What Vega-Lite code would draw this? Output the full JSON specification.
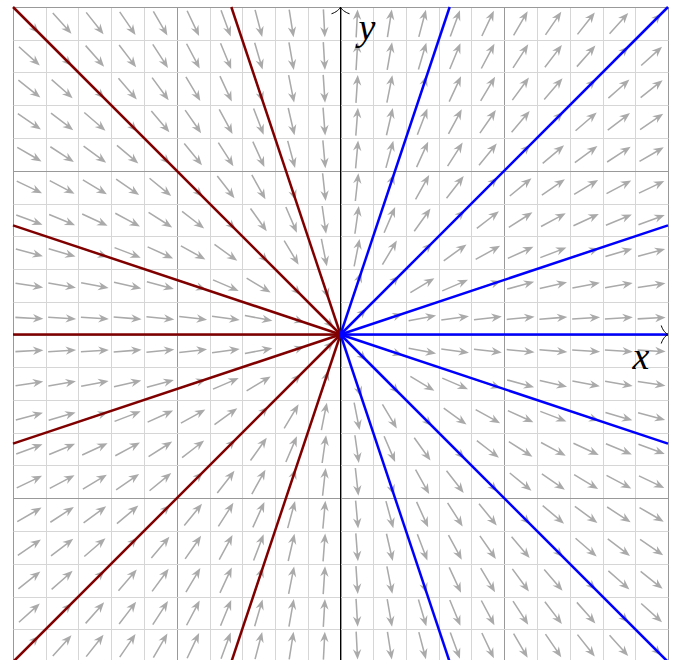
{
"$schema": "https://vega.github.io/schema/vega-lite/v6.json",
"width": 655, "height": 655,
"autosize": {"type": "none"},
"padding": {"left": 13, "top": 7, "right": 10, "bottom": 0},
"background": "white",
"config": {"view": {"stroke": null}, "axis": {"labels": false, "ticks": false, "domain": false, "grid": false}},
"datasets": {
"arrows": [
{"x":-1.9,"y":1.9,"a":45},{"x":-1.7,"y":1.9,"a":48.2},{"x":-1.5,"y":1.9,"a":51.7},{"x":-1.3,"y":1.9,"a":55.6},{"x":-1.1,"y":1.9,"a":59.9},{"x":-0.9,"y":1.9,"a":64.6},{"x":-0.7,"y":1.9,"a":69.8},{"x":-0.5,"y":1.9,"a":75.3},{"x":-0.3,"y":1.9,"a":81},{"x":-0.1,"y":1.9,"a":87},
{"x":0.1,"y":1.9,"a":-87},{"x":0.3,"y":1.9,"a":-81},{"x":0.5,"y":1.9,"a":-75.3},{"x":0.7,"y":1.9,"a":-69.8},{"x":0.9,"y":1.9,"a":-64.6},{"x":1.1,"y":1.9,"a":-59.9},{"x":1.3,"y":1.9,"a":-55.6},{"x":1.5,"y":1.9,"a":-51.7},{"x":1.7,"y":1.9,"a":-48.2},{"x":1.9,"y":1.9,"a":-45},
{"x":-1.9,"y":1.7,"a":41.8},{"x":-1.7,"y":1.7,"a":45},{"x":-1.5,"y":1.7,"a":48.6},{"x":-1.3,"y":1.7,"a":52.6},{"x":-1.1,"y":1.7,"a":57.1},{"x":-0.9,"y":1.7,"a":62.1},{"x":-0.7,"y":1.7,"a":67.6},{"x":-0.5,"y":1.7,"a":73.6},{"x":-0.3,"y":1.7,"a":80},{"x":-0.1,"y":1.7,"a":86.6},
{"x":0.1,"y":1.7,"a":-86.6},{"x":0.3,"y":1.7,"a":-80},{"x":0.5,"y":1.7,"a":-73.6},{"x":0.7,"y":1.7,"a":-67.6},{"x":0.9,"y":1.7,"a":-62.1},{"x":1.1,"y":1.7,"a":-57.1},{"x":1.3,"y":1.7,"a":-52.6},{"x":1.5,"y":1.7,"a":-48.6},{"x":1.7,"y":1.7,"a":-45},{"x":1.9,"y":1.7,"a":-41.8},
{"x":-1.9,"y":1.5,"a":38.3},{"x":-1.7,"y":1.5,"a":41.4},{"x":-1.5,"y":1.5,"a":45},{"x":-1.3,"y":1.5,"a":49.1},{"x":-1.1,"y":1.5,"a":53.7},{"x":-0.9,"y":1.5,"a":59},{"x":-0.7,"y":1.5,"a":65},{"x":-0.5,"y":1.5,"a":71.6},{"x":-0.3,"y":1.5,"a":78.7},{"x":-0.1,"y":1.5,"a":86.2},
{"x":0.1,"y":1.5,"a":-86.2},{"x":0.3,"y":1.5,"a":-78.7},{"x":0.5,"y":1.5,"a":-71.6},{"x":0.7,"y":1.5,"a":-65},{"x":0.9,"y":1.5,"a":-59},{"x":1.1,"y":1.5,"a":-53.7},{"x":1.3,"y":1.5,"a":-49.1},{"x":1.5,"y":1.5,"a":-45},{"x":1.7,"y":1.5,"a":-41.4},{"x":1.9,"y":1.5,"a":-38.3},
{"x":-1.9,"y":1.3,"a":34.4},{"x":-1.7,"y":1.3,"a":37.4},{"x":-1.5,"y":1.3,"a":40.9},{"x":-1.3,"y":1.3,"a":45},{"x":-1.1,"y":1.3,"a":49.8},{"x":-0.9,"y":1.3,"a":55.3},{"x":-0.7,"y":1.3,"a":61.7},{"x":-0.5,"y":1.3,"a":69},{"x":-0.3,"y":1.3,"a":77},{"x":-0.1,"y":1.3,"a":85.6},
{"x":0.1,"y":1.3,"a":-85.6},{"x":0.3,"y":1.3,"a":-77},{"x":0.5,"y":1.3,"a":-69},{"x":0.7,"y":1.3,"a":-61.7},{"x":0.9,"y":1.3,"a":-55.3},{"x":1.1,"y":1.3,"a":-49.8},{"x":1.3,"y":1.3,"a":-45},{"x":1.5,"y":1.3,"a":-40.9},{"x":1.7,"y":1.3,"a":-37.4},{"x":1.9,"y":1.3,"a":-34.4},
{"x":-1.9,"y":1.1,"a":30.1},{"x":-1.7,"y":1.1,"a":32.9},{"x":-1.5,"y":1.1,"a":36.3},{"x":-1.3,"y":1.1,"a":40.2},{"x":-1.1,"y":1.1,"a":45},{"x":-0.9,"y":1.1,"a":50.7},{"x":-0.7,"y":1.1,"a":57.5},{"x":-0.5,"y":1.1,"a":65.6},{"x":-0.3,"y":1.1,"a":74.7},{"x":-0.1,"y":1.1,"a":84.8},
{"x":0.1,"y":1.1,"a":-84.8},{"x":0.3,"y":1.1,"a":-74.7},{"x":0.5,"y":1.1,"a":-65.6},{"x":0.7,"y":1.1,"a":-57.5},{"x":0.9,"y":1.1,"a":-50.7},{"x":1.1,"y":1.1,"a":-45},{"x":1.3,"y":1.1,"a":-40.2},{"x":1.5,"y":1.1,"a":-36.3},{"x":1.7,"y":1.1,"a":-32.9},{"x":1.9,"y":1.1,"a":-30.1},
{"x":-1.9,"y":0.9,"a":25.4},{"x":-1.7,"y":0.9,"a":27.9},{"x":-1.5,"y":0.9,"a":31},{"x":-1.3,"y":0.9,"a":34.7},{"x":-1.1,"y":0.9,"a":39.3},{"x":-0.9,"y":0.9,"a":45},{"x":-0.7,"y":0.9,"a":52.1},{"x":-0.5,"y":0.9,"a":60.9},{"x":-0.3,"y":0.9,"a":71.6},{"x":-0.1,"y":0.9,"a":83.7},
{"x":0.1,"y":0.9,"a":-83.7},{"x":0.3,"y":0.9,"a":-71.6},{"x":0.5,"y":0.9,"a":-60.9},{"x":0.7,"y":0.9,"a":-52.1},{"x":0.9,"y":0.9,"a":-45},{"x":1.1,"y":0.9,"a":-39.3},{"x":1.3,"y":0.9,"a":-34.7},{"x":1.5,"y":0.9,"a":-31},{"x":1.7,"y":0.9,"a":-27.9},{"x":1.9,"y":0.9,"a":-25.4},
{"x":-1.9,"y":0.7,"a":20.2},{"x":-1.7,"y":0.7,"a":22.4},{"x":-1.5,"y":0.7,"a":25},{"x":-1.3,"y":0.7,"a":28.3},{"x":-1.1,"y":0.7,"a":32.5},{"x":-0.9,"y":0.7,"a":37.9},{"x":-0.7,"y":0.7,"a":45},{"x":-0.5,"y":0.7,"a":54.5},{"x":-0.3,"y":0.7,"a":66.8},{"x":-0.1,"y":0.7,"a":81.9},
{"x":0.1,"y":0.7,"a":-81.9},{"x":0.3,"y":0.7,"a":-66.8},{"x":0.5,"y":0.7,"a":-54.5},{"x":0.7,"y":0.7,"a":-45},{"x":0.9,"y":0.7,"a":-37.9},{"x":1.1,"y":0.7,"a":-32.5},{"x":1.3,"y":0.7,"a":-28.3},{"x":1.5,"y":0.7,"a":-25},{"x":1.7,"y":0.7,"a":-22.4},{"x":1.9,"y":0.7,"a":-20.2},
{"x":-1.9,"y":0.5,"a":14.7},{"x":-1.7,"y":0.5,"a":16.4},{"x":-1.5,"y":0.5,"a":18.4},{"x":-1.3,"y":0.5,"a":21},{"x":-1.1,"y":0.5,"a":24.4},{"x":-0.9,"y":0.5,"a":29.1},{"x":-0.7,"y":0.5,"a":35.5},{"x":-0.5,"y":0.5,"a":45},{"x":-0.3,"y":0.5,"a":59},{"x":-0.1,"y":0.5,"a":78.7},
{"x":0.1,"y":0.5,"a":-78.7},{"x":0.3,"y":0.5,"a":-59},{"x":0.5,"y":0.5,"a":-45},{"x":0.7,"y":0.5,"a":-35.5},{"x":0.9,"y":0.5,"a":-29.1},{"x":1.1,"y":0.5,"a":-24.4},{"x":1.3,"y":0.5,"a":-21},{"x":1.5,"y":0.5,"a":-18.4},{"x":1.7,"y":0.5,"a":-16.4},{"x":1.9,"y":0.5,"a":-14.7},
{"x":-1.9,"y":0.3,"a":9},{"x":-1.7,"y":0.3,"a":10},{"x":-1.5,"y":0.3,"a":11.3},{"x":-1.3,"y":0.3,"a":13},{"x":-1.1,"y":0.3,"a":15.3},{"x":-0.9,"y":0.3,"a":18.4},{"x":-0.7,"y":0.3,"a":23.2},{"x":-0.5,"y":0.3,"a":31},{"x":-0.3,"y":0.3,"a":45},{"x":-0.1,"y":0.3,"a":71.6},
{"x":0.1,"y":0.3,"a":-71.6},{"x":0.3,"y":0.3,"a":-45},{"x":0.5,"y":0.3,"a":-31},{"x":0.7,"y":0.3,"a":-23.2},{"x":0.9,"y":0.3,"a":-18.4},{"x":1.1,"y":0.3,"a":-15.3},{"x":1.3,"y":0.3,"a":-13},{"x":1.5,"y":0.3,"a":-11.3},{"x":1.7,"y":0.3,"a":-10},{"x":1.9,"y":0.3,"a":-9},
{"x":-1.9,"y":0.1,"a":3},{"x":-1.7,"y":0.1,"a":3.4},{"x":-1.5,"y":0.1,"a":3.8},{"x":-1.3,"y":0.1,"a":4.4},{"x":-1.1,"y":0.1,"a":5.2},{"x":-0.9,"y":0.1,"a":6.3},{"x":-0.7,"y":0.1,"a":8.1},{"x":-0.5,"y":0.1,"a":11.3},{"x":-0.3,"y":0.1,"a":18.4},{"x":-0.1,"y":0.1,"a":45},
{"x":0.1,"y":0.1,"a":-45},{"x":0.3,"y":0.1,"a":-18.4},{"x":0.5,"y":0.1,"a":-11.3},{"x":0.7,"y":0.1,"a":-8.1},{"x":0.9,"y":0.1,"a":-6.3},{"x":1.1,"y":0.1,"a":-5.2},{"x":1.3,"y":0.1,"a":-4.4},{"x":1.5,"y":0.1,"a":-3.8},{"x":1.7,"y":0.1,"a":-3.4},{"x":1.9,"y":0.1,"a":-3},
{"x":-1.9,"y":-0.1,"a":-3},{"x":-1.7,"y":-0.1,"a":-3.4},{"x":-1.5,"y":-0.1,"a":-3.8},{"x":-1.3,"y":-0.1,"a":-4.4},{"x":-1.1,"y":-0.1,"a":-5.2},{"x":-0.9,"y":-0.1,"a":-6.3},{"x":-0.7,"y":-0.1,"a":-8.1},{"x":-0.5,"y":-0.1,"a":-11.3},{"x":-0.3,"y":-0.1,"a":-18.4},{"x":-0.1,"y":-0.1,"a":-45},
{"x":0.1,"y":-0.1,"a":45},{"x":0.3,"y":-0.1,"a":18.4},{"x":0.5,"y":-0.1,"a":11.3},{"x":0.7,"y":-0.1,"a":8.1},{"x":0.9,"y":-0.1,"a":6.3},{"x":1.1,"y":-0.1,"a":5.2},{"x":1.3,"y":-0.1,"a":4.4},{"x":1.5,"y":-0.1,"a":3.8},{"x":1.7,"y":-0.1,"a":3.4},{"x":1.9,"y":-0.1,"a":3},
{"x":-1.9,"y":-0.3,"a":-9},{"x":-1.7,"y":-0.3,"a":-10},{"x":-1.5,"y":-0.3,"a":-11.3},{"x":-1.3,"y":-0.3,"a":-13},{"x":-1.1,"y":-0.3,"a":-15.3},{"x":-0.9,"y":-0.3,"a":-18.4},{"x":-0.7,"y":-0.3,"a":-23.2},{"x":-0.5,"y":-0.3,"a":-31},{"x":-0.3,"y":-0.3,"a":-45},{"x":-0.1,"y":-0.3,"a":-71.6},
{"x":0.1,"y":-0.3,"a":71.6},{"x":0.3,"y":-0.3,"a":45},{"x":0.5,"y":-0.3,"a":31},{"x":0.7,"y":-0.3,"a":23.2},{"x":0.9,"y":-0.3,"a":18.4},{"x":1.1,"y":-0.3,"a":15.3},{"x":1.3,"y":-0.3,"a":13},{"x":1.5,"y":-0.3,"a":11.3},{"x":1.7,"y":-0.3,"a":10},{"x":1.9,"y":-0.3,"a":9},
{"x":-1.9,"y":-0.5,"a":-14.7},{"x":-1.7,"y":-0.5,"a":-16.4},{"x":-1.5,"y":-0.5,"a":-18.4},{"x":-1.3,"y":-0.5,"a":-21},{"x":-1.1,"y":-0.5,"a":-24.4},{"x":-0.9,"y":-0.5,"a":-29.1},{"x":-0.7,"y":-0.5,"a":-35.5},{"x":-0.5,"y":-0.5,"a":-45},{"x":-0.3,"y":-0.5,"a":-59},{"x":-0.1,"y":-0.5,"a":-78.7},
{"x":0.1,"y":-0.5,"a":78.7},{"x":0.3,"y":-0.5,"a":59},{"x":0.5,"y":-0.5,"a":45},{"x":0.7,"y":-0.5,"a":35.5},{"x":0.9,"y":-0.5,"a":29.1},{"x":1.1,"y":-0.5,"a":24.4},{"x":1.3,"y":-0.5,"a":21},{"x":1.5,"y":-0.5,"a":18.4},{"x":1.7,"y":-0.5,"a":16.4},{"x":1.9,"y":-0.5,"a":14.7},
{"x":-1.9,"y":-0.7,"a":-20.2},{"x":-1.7,"y":-0.7,"a":-22.4},{"x":-1.5,"y":-0.7,"a":-25},{"x":-1.3,"y":-0.7,"a":-28.3},{"x":-1.1,"y":-0.7,"a":-32.5},{"x":-0.9,"y":-0.7,"a":-37.9},{"x":-0.7,"y":-0.7,"a":-45},{"x":-0.5,"y":-0.7,"a":-54.5},{"x":-0.3,"y":-0.7,"a":-66.8},{"x":-0.1,"y":-0.7,"a":-81.9},
{"x":0.1,"y":-0.7,"a":81.9},{"x":0.3,"y":-0.7,"a":66.8},{"x":0.5,"y":-0.7,"a":54.5},{"x":0.7,"y":-0.7,"a":45},{"x":0.9,"y":-0.7,"a":37.9},{"x":1.1,"y":-0.7,"a":32.5},{"x":1.3,"y":-0.7,"a":28.3},{"x":1.5,"y":-0.7,"a":25},{"x":1.7,"y":-0.7,"a":22.4},{"x":1.9,"y":-0.7,"a":20.2},
{"x":-1.9,"y":-0.9,"a":-25.4},{"x":-1.7,"y":-0.9,"a":-27.9},{"x":-1.5,"y":-0.9,"a":-31},{"x":-1.3,"y":-0.9,"a":-34.7},{"x":-1.1,"y":-0.9,"a":-39.3},{"x":-0.9,"y":-0.9,"a":-45},{"x":-0.7,"y":-0.9,"a":-52.1},{"x":-0.5,"y":-0.9,"a":-60.9},{"x":-0.3,"y":-0.9,"a":-71.6},{"x":-0.1,"y":-0.9,"a":-83.7},
{"x":0.1,"y":-0.9,"a":83.7},{"x":0.3,"y":-0.9,"a":71.6},{"x":0.5,"y":-0.9,"a":60.9},{"x":0.7,"y":-0.9,"a":52.1},{"x":0.9,"y":-0.9,"a":45},{"x":1.1,"y":-0.9,"a":39.3},{"x":1.3,"y":-0.9,"a":34.7},{"x":1.5,"y":-0.9,"a":31},{"x":1.7,"y":-0.9,"a":27.9},{"x":1.9,"y":-0.9,"a":25.4},
{"x":-1.9,"y":-1.1,"a":-30.1},{"x":-1.7,"y":-1.1,"a":-32.9},{"x":-1.5,"y":-1.1,"a":-36.3},{"x":-1.3,"y":-1.1,"a":-40.2},{"x":-1.1,"y":-1.1,"a":-45},{"x":-0.9,"y":-1.1,"a":-50.7},{"x":-0.7,"y":-1.1,"a":-57.5},{"x":-0.5,"y":-1.1,"a":-65.6},{"x":-0.3,"y":-1.1,"a":-74.7},{"x":-0.1,"y":-1.1,"a":-84.8},
{"x":0.1,"y":-1.1,"a":84.8},{"x":0.3,"y":-1.1,"a":74.7},{"x":0.5,"y":-1.1,"a":65.6},{"x":0.7,"y":-1.1,"a":57.5},{"x":0.9,"y":-1.1,"a":50.7},{"x":1.1,"y":-1.1,"a":45},{"x":1.3,"y":-1.1,"a":40.2},{"x":1.5,"y":-1.1,"a":36.3},{"x":1.7,"y":-1.1,"a":32.9},{"x":1.9,"y":-1.1,"a":30.1},
{"x":-1.9,"y":-1.3,"a":-34.4},{"x":-1.7,"y":-1.3,"a":-37.4},{"x":-1.5,"y":-1.3,"a":-40.9},{"x":-1.3,"y":-1.3,"a":-45},{"x":-1.1,"y":-1.3,"a":-49.8},{"x":-0.9,"y":-1.3,"a":-55.3},{"x":-0.7,"y":-1.3,"a":-61.7},{"x":-0.5,"y":-1.3,"a":-69},{"x":-0.3,"y":-1.3,"a":-77},{"x":-0.1,"y":-1.3,"a":-85.6},
{"x":0.1,"y":-1.3,"a":85.6},{"x":0.3,"y":-1.3,"a":77},{"x":0.5,"y":-1.3,"a":69},{"x":0.7,"y":-1.3,"a":61.7},{"x":0.9,"y":-1.3,"a":55.3},{"x":1.1,"y":-1.3,"a":49.8},{"x":1.3,"y":-1.3,"a":45},{"x":1.5,"y":-1.3,"a":40.9},{"x":1.7,"y":-1.3,"a":37.4},{"x":1.9,"y":-1.3,"a":34.4},
{"x":-1.9,"y":-1.5,"a":-38.3},{"x":-1.7,"y":-1.5,"a":-41.4},{"x":-1.5,"y":-1.5,"a":-45},{"x":-1.3,"y":-1.5,"a":-49.1},{"x":-1.1,"y":-1.5,"a":-53.7},{"x":-0.9,"y":-1.5,"a":-59},{"x":-0.7,"y":-1.5,"a":-65},{"x":-0.5,"y":-1.5,"a":-71.6},{"x":-0.3,"y":-1.5,"a":-78.7},{"x":-0.1,"y":-1.5,"a":-86.2},
{"x":0.1,"y":-1.5,"a":86.2},{"x":0.3,"y":-1.5,"a":78.7},{"x":0.5,"y":-1.5,"a":71.6},{"x":0.7,"y":-1.5,"a":65},{"x":0.9,"y":-1.5,"a":59},{"x":1.1,"y":-1.5,"a":53.7},{"x":1.3,"y":-1.5,"a":49.1},{"x":1.5,"y":-1.5,"a":45},{"x":1.7,"y":-1.5,"a":41.4},{"x":1.9,"y":-1.5,"a":38.3},
{"x":-1.9,"y":-1.7,"a":-41.8},{"x":-1.7,"y":-1.7,"a":-45},{"x":-1.5,"y":-1.7,"a":-48.6},{"x":-1.3,"y":-1.7,"a":-52.6},{"x":-1.1,"y":-1.7,"a":-57.1},{"x":-0.9,"y":-1.7,"a":-62.1},{"x":-0.7,"y":-1.7,"a":-67.6},{"x":-0.5,"y":-1.7,"a":-73.6},{"x":-0.3,"y":-1.7,"a":-80},{"x":-0.1,"y":-1.7,"a":-86.6},
{"x":0.1,"y":-1.7,"a":86.6},{"x":0.3,"y":-1.7,"a":80},{"x":0.5,"y":-1.7,"a":73.6},{"x":0.7,"y":-1.7,"a":67.6},{"x":0.9,"y":-1.7,"a":62.1},{"x":1.1,"y":-1.7,"a":57.1},{"x":1.3,"y":-1.7,"a":52.6},{"x":1.5,"y":-1.7,"a":48.6},{"x":1.7,"y":-1.7,"a":45},{"x":1.9,"y":-1.7,"a":41.8},
{"x":-1.9,"y":-1.9,"a":-45},{"x":-1.7,"y":-1.9,"a":-48.2},{"x":-1.5,"y":-1.9,"a":-51.7},{"x":-1.3,"y":-1.9,"a":-55.6},{"x":-1.1,"y":-1.9,"a":-59.9},{"x":-0.9,"y":-1.9,"a":-64.6},{"x":-0.7,"y":-1.9,"a":-69.8},{"x":-0.5,"y":-1.9,"a":-75.3},{"x":-0.3,"y":-1.9,"a":-81},{"x":-0.1,"y":-1.9,"a":-87},
{"x":0.1,"y":-1.9,"a":87},{"x":0.3,"y":-1.9,"a":81},{"x":0.5,"y":-1.9,"a":75.3},{"x":0.7,"y":-1.9,"a":69.8},{"x":0.9,"y":-1.9,"a":64.6},{"x":1.1,"y":-1.9,"a":59.9},{"x":1.3,"y":-1.9,"a":55.6},{"x":1.5,"y":-1.9,"a":51.7},{"x":1.7,"y":-1.9,"a":48.2},{"x":1.9,"y":-1.9,"a":45}
],
"curves": [
{"id":"L1","side":"left","x":-2,"y":2},{"id":"L1","side":"left","x":0,"y":0},
{"id":"L2","side":"left","x":-2,"y":0.6667},{"id":"L2","side":"left","x":0,"y":0},
{"id":"L3","side":"left","x":-2,"y":0},{"id":"L3","side":"left","x":0,"y":0},
{"id":"L4","side":"left","x":-2,"y":-0.6667},{"id":"L4","side":"left","x":0,"y":0},
{"id":"L5","side":"left","x":-2,"y":-2},{"id":"L5","side":"left","x":0,"y":0},
{"id":"L6","side":"left","x":-0.6667,"y":2},{"id":"L6","side":"left","x":0,"y":0},
{"id":"L7","side":"left","x":-0.6667,"y":-2},{"id":"L7","side":"left","x":0,"y":0},
{"id":"R1","side":"right","x":2,"y":2},{"id":"R1","side":"right","x":0,"y":0},
{"id":"R2","side":"right","x":2,"y":0.6667},{"id":"R2","side":"right","x":0,"y":0},
{"id":"R3","side":"right","x":2,"y":0},{"id":"R3","side":"right","x":0,"y":0},
{"id":"R4","side":"right","x":2,"y":-0.6667},{"id":"R4","side":"right","x":0,"y":0},
{"id":"R5","side":"right","x":2,"y":-2},{"id":"R5","side":"right","x":0,"y":0},
{"id":"R6","side":"right","x":0.6667,"y":2},{"id":"R6","side":"right","x":0,"y":0},
{"id":"R7","side":"right","x":0.6667,"y":-2},{"id":"R7","side":"right","x":0,"y":0}
],
"labels": [
{"t":"y","x":0.162,"y":1.8},
{"t":"x","x":1.835,"y":-0.211}
]
},
"layer": [
{
"data": {"name": "arrows"},
"mark": {"type": "point", "shape": "M -1 -0.055 L 0.45 -0.055 L 0.25 -0.3 L 1 0 L 0.25 0.3 L 0.45 0.055 L -1 0.055 Z", "filled": true, "size": 784, "color": "#aaaaaa", "opacity": 1, "strokeWidth": 0},
"encoding": {
"x": {"field": "x", "type": "quantitative", "scale": {"domain": [-2, 2], "nice": false, "zero": false},
 "axis": {"title": null, "grid": true, "labels": false, "ticks": false, "domain": false, "tickCount": 200,
  "values": [-2,-1.8,-1.6,-1.4,-1.2,-1,-0.8,-0.6,-0.4,-0.2,0,0.2,0.4,0.6,0.8,1,1.2,1.4,1.6,1.8,2],
  "gridColor": {"condition": {"test": "datum.value % 1 === 0", "value": "#999999"}, "value": "#d6d6d6"}, "gridWidth": 1}},
"y": {"field": "y", "type": "quantitative", "scale": {"domain": [-2, 2], "nice": false, "zero": false},
 "axis": {"title": null, "grid": true, "labels": false, "ticks": false, "domain": false, "tickCount": 200,
  "values": [-2,-1.8,-1.6,-1.4,-1.2,-1,-0.8,-0.6,-0.4,-0.2,0,0.2,0.4,0.6,0.8,1,1.2,1.4,1.6,1.8,2],
  "gridColor": {"condition": {"test": "datum.value % 1 === 0", "value": "#999999"}, "value": "#d6d6d6"}, "gridWidth": 1}},
"angle": {"field": "a", "type": "quantitative", "scale": null}
}
},
{
"data": {"values": [{}]},
"mark": {"type": "rule", "color": "black", "strokeWidth": 1},
"encoding": {"x": {"datum": 0, "type": "quantitative"}}
},
{
"data": {"values": [{}]},
"mark": {"type": "rule", "color": "black", "strokeWidth": 1},
"encoding": {"y": {"datum": 0, "type": "quantitative"}}
},
{
"data": {"name": "curves"},
"mark": {"type": "line", "strokeWidth": 2.5},
"encoding": {
"x": {"field": "x", "type": "quantitative"},
"y": {"field": "y", "type": "quantitative"},
"detail": {"field": "id", "type": "nominal"},
"color": {"field": "side", "type": "nominal", "scale": {"domain": ["left", "right"], "range": ["#800000", "#0000ff"]}, "legend": null}
}
},
{
"data": {"values": [{}]},
"mark": {"type": "point", "shape": "M -0.75 -1 C -0.6 -0.5 -0.25 -0.1 0 0 C -0.25 0.1 -0.6 0.5 -0.75 1", "filled": false, "color": "black", "strokeWidth": 1, "size": 324, "opacity": 1, "angle": 0},
"encoding": {"x": {"datum": 2, "type": "quantitative"}, "y": {"datum": 0, "type": "quantitative"}}
},
{
"data": {"values": [{}]},
"mark": {"type": "point", "shape": "M -0.75 -1 C -0.6 -0.5 -0.25 -0.1 0 0 C -0.25 0.1 -0.6 0.5 -0.75 1", "filled": false, "color": "black", "strokeWidth": 1, "size": 324, "opacity": 1, "angle": 270},
"encoding": {"x": {"datum": 0, "type": "quantitative"}, "y": {"datum": 2, "type": "quantitative"}}
},
{
"data": {"name": "labels"},
"mark": {"type": "text", "font": "Liberation Serif", "fontStyle": "italic", "fontSize": 38, "baseline": "alphabetic", "align": "center", "color": "black"},
"encoding": {
"x": {"field": "x", "type": "quantitative"},
"y": {"field": "y", "type": "quantitative"},
"text": {"field": "t", "type": "nominal"}
}
}
]
}
